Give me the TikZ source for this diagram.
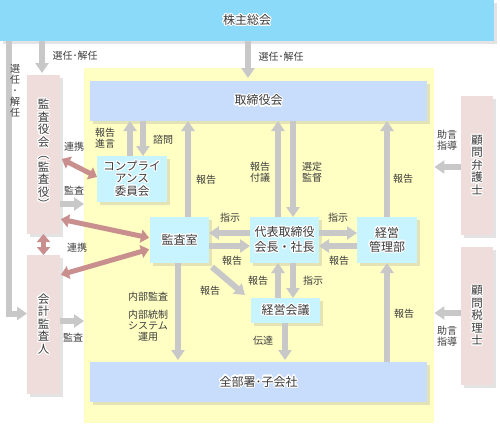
\documentclass[tikz,border=0pt]{standalone}
\usepackage{fontspec}
\setmainfont{Noto Sans CJK JP}
\usepackage[copies]{contour}
\contourlength{1.1pt}
\usetikzlibrary{arrows.meta,shadows}

\definecolor{c-txt}{RGB}{60,60,60}
\definecolor{c-top}{RGB}{140,218,250}
\definecolor{c-bar}{RGB}{200,220,252}
\definecolor{c-dept}{RGB}{200,244,255}
\definecolor{c-side}{RGB}{238,221,218}
\definecolor{c-field}{RGB}{255,255,196}
\definecolor{c-arr}{RGB}{200,200,200}
\definecolor{c-tie}{RGB}{201,142,142}

\newcommand{\halo}[1]{\contour{white}{#1}}

\tikzset{
  box/.style={anchor=north west, inner sep=0pt, outer sep=0pt, align=center, text=c-txt,
    font=\fontsize{12}{14}\selectfont,
    drop shadow={shadow xshift=3pt, shadow yshift=-3pt, opacity=0.22}},
  side/.style={box, fill=c-side, minimum width=33pt, font=\fontsize{11.5}{12.5}\selectfont},
  dept/.style={box, fill=c-dept},
  lbl/.style={inner sep=0pt, align=center, text=c-txt, font=\fontsize{10}{11.5}\selectfont},
  flow/.style={color=c-arr, line width=6pt, -{Triangle[width=13pt,length=10pt]}},
  tie/.style={color=c-tie, line width=5pt, {Triangle[width=13pt,length=8pt]}-{Triangle[width=13pt,length=8pt]}}
}

\begin{document}
\begin{tikzpicture}[x=1pt, y=-1pt]
\useasboundingbox (0,0) rectangle (500,440);

% company field
\node (area) [anchor=north west, fill=c-field, inner sep=0pt, minimum width=350pt, minimum height=355pt] at (84,68) {};

\node (soukai) [box, fill=c-top, minimum width=494pt, minimum height=41pt] at (0,0) {\halo{株主総会}};
\node (board) [box, fill=c-bar, minimum width=337pt, minimum height=40pt] at (90,81) {\halo{取締役会}};
\node (depts) [box, fill=c-bar, minimum width=337pt, minimum height=40pt] at (90,362) {\halo{全部署･子会社}};

\node (auditors) [side, minimum height=159pt] at (27,75)
  {\halo{監}\\\halo{査}\\\halo{役}\\\halo{会}\\\halo{︵}\\\halo{監}\\\halo{査}\\\halo{役}\\\halo{︶}};
\node (accountant) [side, minimum height=139pt] at (27,255)
  {\halo{会}\\\halo{計}\\\halo{監}\\\halo{査}\\\halo{人}};
\node (lawyer) [side, minimum width=32pt, minimum height=139pt] at (461,96)
  {\halo{顧}\\\halo{問}\\\halo{弁}\\\halo{護}\\\halo{士}};
\node (taxacc) [side, minimum width=32pt, minimum height=138pt] at (461,247)
  {\halo{顧}\\\halo{問}\\\halo{税}\\\halo{理}\\\halo{士}};

\node (comp) [dept, minimum width=70pt, minimum height=46pt, font=\fontsize{11.5}{12.5}\selectfont] at (97,156)
  {\halo{コンプライ}\\\halo{アンス}\\\halo{委員会}};
\node (audit) [dept, minimum width=59pt, minimum height=46pt] at (150,217) {\halo{監査室}};
\node (ceo) [dept, minimum width=69pt, minimum height=46pt, font=\fontsize{12}{15}\selectfont] at (250,217)
  {\halo{代表取締役}\\\halo{会長・社長}};
\node (mgmt) [dept, minimum width=60pt, minimum height=46pt] at (357,217) {\halo{経営}\\\halo{管理部}};
\node (meeting) [dept, minimum width=69pt, minimum height=25pt] at (251,298) {\halo{経営会議}};

% grey arrows
\draw[flow] ([xshift=9pt]soukai.south west) |- ([yshift=11pt]accountant.west);
\path[flow]
  ([xshift=42pt]soukai.south west) edge[shorten >=2pt] ([xshift=15pt]auditors.north west)
  ([xshift=248pt]soukai.south west) edge[shorten >=3pt] ([xshift=158pt]board.north west)
  ([xshift=33pt]comp.north west) edge ([xshift=33pt]comp.north west |- board.south)
  ([xshift=46pt]comp.north west |- board.south) edge ([xshift=46pt]comp.north west)
  ([xshift=38pt]audit.north west) edge ([xshift=38pt]audit.north west |- board.south)
  ([xshift=28pt]ceo.north west) edge ([xshift=28pt]ceo.north west |- board.south)
  ([xshift=43pt]ceo.north west |- board.south) edge ([xshift=43pt]ceo.north west)
  ([xshift=30pt]mgmt.north west) edge ([xshift=30pt]mgmt.north west |- board.south)
  ([yshift=7pt]ceo.west) edge ([yshift=7pt]ceo.west -| audit.east)
  ([yshift=-6pt]audit.east) edge ([yshift=-6pt]audit.east -| ceo.west)
  ([yshift=7pt]ceo.east) edge ([yshift=7pt]ceo.east -| mgmt.west)
  ([yshift=-6pt]mgmt.west) edge ([yshift=-6pt]mgmt.west -| ceo.east)
  ([xshift=27pt]meeting.north west) edge ([xshift=27pt]meeting.north west |- ceo.south)
  ([xshift=42pt]meeting.north west |- ceo.south) edge ([xshift=42pt]meeting.north west)
  ([xshift=3pt,yshift=-4pt]audit.south east) edge ([xshift=-6pt,yshift=3pt]meeting.north west)
  ([xshift=28pt]audit.south west) edge[shorten >=2pt] ([xshift=28pt]audit.south west |- depts.north)
  ([xshift=34pt]meeting.south west) edge[shorten >=2pt] ([xshift=34pt]meeting.south west |- depts.north)
  ([xshift=30pt]mgmt.south west |- depts.north) edge ([xshift=30pt]mgmt.south west)
  ([yshift=-1.5pt]lawyer.west) edge ([yshift=-1.5pt]lawyer.west -| area.east)
  ([yshift=3pt]taxacc.west) edge ([yshift=3pt]taxacc.west -| area.east)
  ([yshift=30pt]auditors.south east) edge ([yshift=30pt]auditors.south east -| area.west)
  ([yshift=3.5pt]accountant.east) edge ([yshift=3.5pt]accountant.east -| area.west);

% pink links
\path[tie]
  ([yshift=-3.5pt]auditors.east) edge[shorten <=2pt] ([yshift=2pt]comp.west)
  ([yshift=15pt]auditors.south east) edge[shorten <=1pt, shorten >=1pt] ([yshift=2pt]audit.west)
  ([yshift=-20pt]accountant.north east) edge[shorten <=1pt, shorten >=1pt] ([yshift=-9pt]audit.west)
  (auditors.south) edge (accountant.north);

% labels
\node (l1) [lbl] at (75,56) {選任･解任};
\node (l2) [lbl, font=\fontsize{10}{11}\selectfont] at (15,91) {選\\任\\･\\解\\任};
\node (l3) [lbl] at (281,57) {選任･解任};
\node (l4) [lbl] at (105,138) {報告\\進言};
\node (l5) [lbl] at (163,140) {諮問};
\node (l6) [lbl] at (74,147) {連携};
\node (l7) [lbl] at (74,191) {監査};
\node (l8) [lbl] at (206,180) {報告};
\node (l9) [lbl] at (260,172) {報告\\付議};
\node (l10) [lbl] at (312,172) {選定\\監督};
\node (l11) [lbl] at (403,179) {報告};
\node (l12) [lbl] at (447,140) {助言\\指導};
\node (l13) [lbl] at (230,218) {指示};
\node (l14) [lbl] at (232,261) {報告};
\node (l15) [lbl] at (338,218) {指示};
\node (l16) [lbl] at (339,261) {報告};
\node (l17) [lbl] at (77,248) {連携};
\node (l18) [lbl] at (258,281) {報告};
\node (l19) [lbl] at (313,281) {指示};
\node (l20) [lbl] at (210,291) {報告};
\node (l21) [lbl] at (148,297) {内部監査};
\node (l22) [lbl, font=\fontsize{10}{11}\selectfont] at (148,326) {内部統制\\システム\\運用};
\node (l23) [lbl] at (263,341) {伝達};
\node (l24) [lbl] at (404,314) {報告};
\node (l25) [lbl] at (447,336) {助言\\指導};
\node (l26) [lbl] at (73,338) {監査};

\end{tikzpicture}
\end{document}
